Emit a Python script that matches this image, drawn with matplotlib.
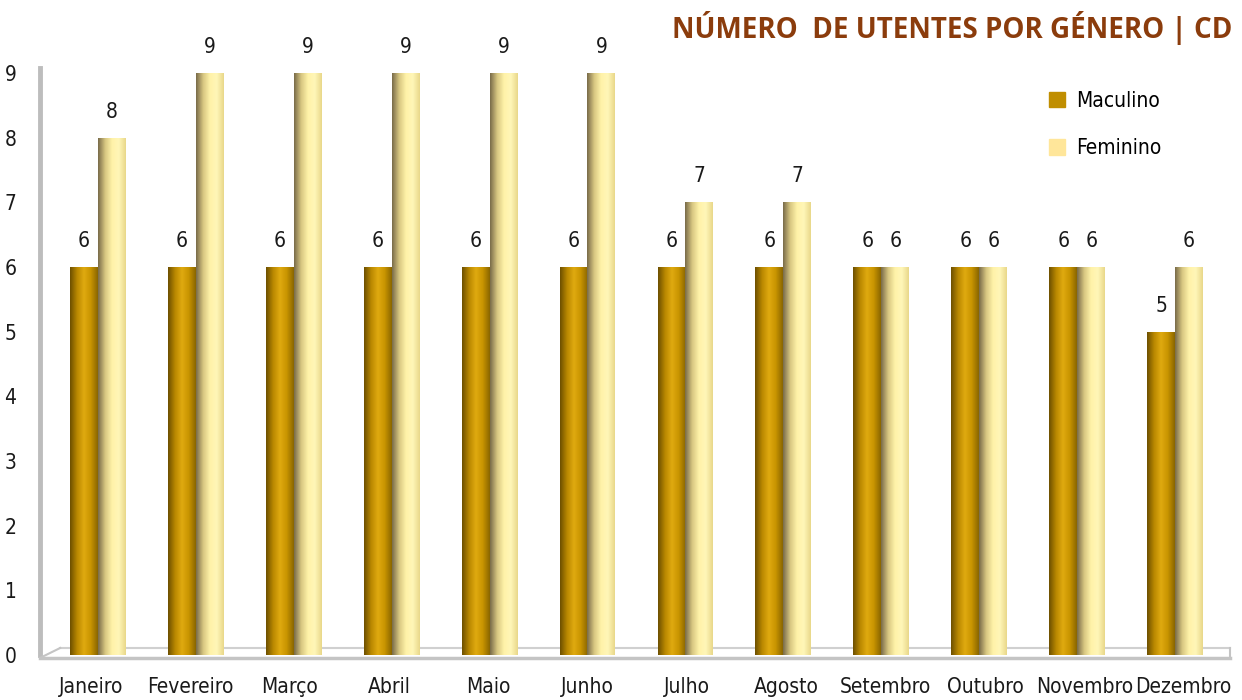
import numpy as np
import matplotlib.pyplot as plt
from matplotlib.patches import Patch
from matplotlib.colors import LinearSegmentedColormap

meses = ['Janeiro', 'Fevereiro', 'Março', 'Abril', 'Maio', 'Junho',
         'Julho', 'Agosto', 'Setembro', 'Outubro', 'Novembro', 'Dezembro']
masculino = [6, 6, 6, 6, 6, 6, 6, 6, 6, 6, 6, 5]
feminino = [8, 9, 9, 9, 9, 9, 7, 7, 6, 6, 6, 6]

plt.rcParams['font.family'] = ['DejaVu Sans']
plt.rcParams['font.stretch'] = 'condensed'

cor_m = '#c08e00'
cor_f = '#ffe69a'
cmap_m = LinearSegmentedColormap.from_list('m', ['#6e5000', '#b98800', '#e0aa10', '#c89400', '#8a6600'])
cmap_f = LinearSegmentedColormap.from_list('f', ['#7a6c4a', '#d6c580', '#fff2a8', '#fff6b8', '#e9d88a'])

fig = plt.figure(figsize=(12.42, 7), dpi=100)
ax = fig.add_axes([40 / 1242, 45 / 700, 1190 / 1242, 587 / 700])

x = np.arange(len(meses))
w = 0.285
grad = np.linspace(0, 1, 64).reshape(1, -1)

bars_m = ax.bar(x - w / 2, masculino, w, color=cor_m)
bars_f = ax.bar(x + w / 2, feminino, w, color=cor_f)

# sombreado cilíndrico
for bars, cmap in [(bars_m, cmap_m), (bars_f, cmap_f)]:
    for b in bars:
        x0, y0 = b.get_x(), b.get_y()
        im = ax.imshow(grad, cmap=cmap, aspect='auto',
                       extent=[x0, x0 + b.get_width(), y0, y0 + b.get_height()],
                       zorder=2)
        im.set_clip_path(b)
    for b in bars:
        ax.text(b.get_x() + b.get_width() / 2, b.get_height() + 0.25,
                '%d' % b.get_height(), ha='center', va='bottom', fontsize=15,
                color='#1a1a1a', clip_on=False)

ax.set_xlim(-0.59, 11.56)
ax.set_ylim(0, 9.08)
# perspectiva 3D: rótulos ligeiramente mais espaçados que as barras
ax.set_xticks(-0.07 + 1.0143 * x)
ax.set_xticklabels(meses, fontsize=15, color='#1a1a1a')
ax.set_yticks(range(10))
ax.set_yticklabels([str(i) for i in range(10)], fontsize=15, color='#1a1a1a')
ax.tick_params(length=0)
ax.tick_params(axis='x', pad=16)
ax.tick_params(axis='y', pad=17)
for s in ax.spines.values():
    s.set_visible(False)

# parede e chão
ax.plot([0, 0], [0, 1.0], transform=ax.transAxes, color='#bdbdbd', lw=3.5,
        clip_on=False, zorder=1)
ax.plot([0, 1], [-0.005, -0.005], transform=ax.transAxes, color='#c4c4c4', lw=2.5,
        clip_on=False, zorder=1)
ax.plot([0.017, 1], [0.012, 0.012], transform=ax.transAxes, color='#d0d0d0', lw=1.5,
        clip_on=False, zorder=1)
ax.plot([0, 0.017], [-0.005, 0.012], transform=ax.transAxes, color='#c4c4c4', lw=1.5,
        clip_on=False, zorder=1)
ax.plot([1, 1], [-0.005, 0.012], transform=ax.transAxes, color='#c4c4c4', lw=1.5,
        clip_on=False, zorder=1)

handles = [Patch(color=cor_m, label='Maculino'), Patch(color=cor_f, label='Feminino')]
fig.legend(handles=handles, loc='upper left', bbox_to_anchor=(1030 / 1242, 1 - 72 / 700),
           frameon=False, fontsize=15, handlelength=0.8, handleheight=0.8,
           handletextpad=0.5, labelspacing=1.3)

fig.text(1232 / 1242, 1 - 28 / 700, 'NÚMERO  DE UTENTES POR GÉNERO | CD',
         ha='right', va='center', fontsize=20, fontweight='bold', stretch='normal',
         color='#8b3c0c', family=['Open Sans', 'DejaVu Sans'])

fig.savefig('out.png', dpi=100)
